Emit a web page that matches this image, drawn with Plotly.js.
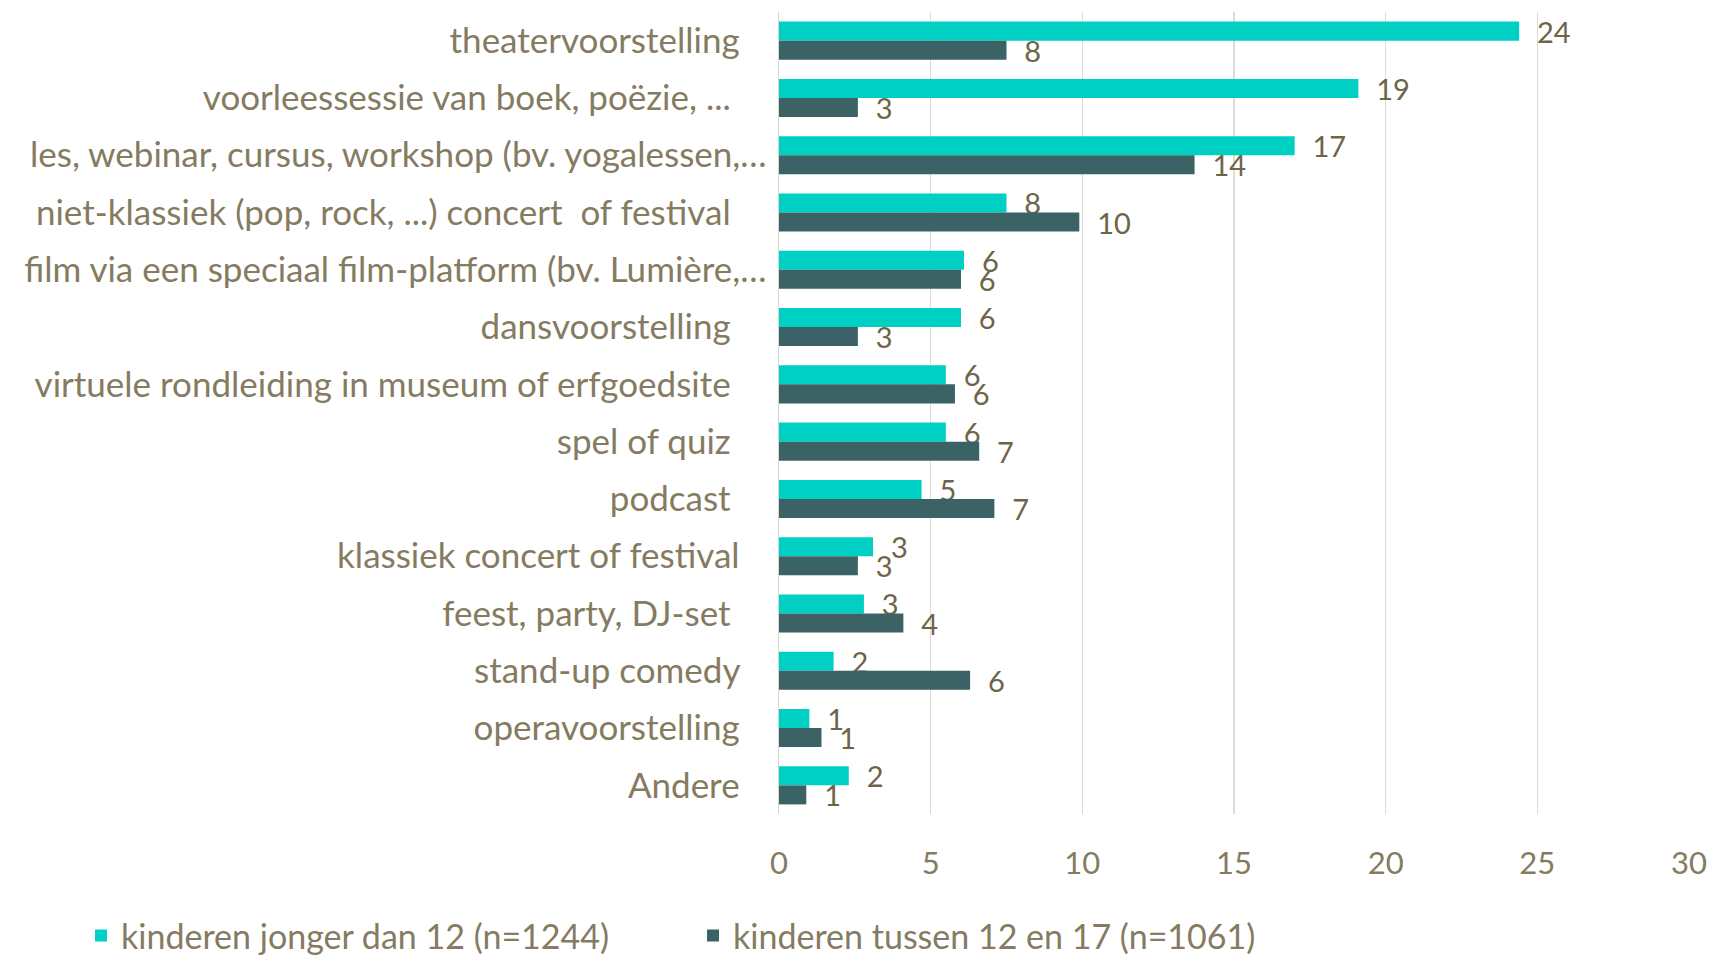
<!DOCTYPE html>
<html>
<head>
<meta charset="utf-8">
<script src="https://cdn.plot.ly/plotly-3.0.1.min.js"></script>
<style>html,body{margin:0;padding:0;background:#fff;}#chart{width:1714px;height:958px;}</style>
</head>
<body>
<div id="chart"></div>
<script>
var categories = [
  "theatervoorstelling",
  "voorleessessie van boek, poëzie, ...",
  "les, webinar, cursus, workshop (bv. yogalessen,…",
  "niet-klassiek (pop, rock, ...) concert  of festival",
  "film via een speciaal film-platform (bv. Lumière,…",
  "dansvoorstelling",
  "virtuele rondleiding in museum of erfgoedsite",
  "spel of quiz",
  "podcast",
  "klassiek concert of festival",
  "feest, party, DJ-set",
  "stand-up comedy",
  "operavoorstelling",
  "Andere"
];
// trailing padding seen in the original labels (number of spaces)
var labelPadding = [3, 4, 0, 4, 0, 4, 4, 4, 4, 3, 4, 3, 3, 3];

var seriesNames = ["kinderen jonger dan 12 (n=1244)", "kinderen tussen 12 en 17 (n=1061)"];
var youngValues = [24.4, 19.1, 17.0, 7.5, 6.1, 6.0, 5.5, 5.5, 4.7, 3.1, 2.8, 1.8, 1.0, 2.3];
var olderValues = [7.5, 2.6, 13.7, 9.9, 6.0, 2.6, 5.8, 6.6, 7.1, 2.6, 4.1, 6.3, 1.4, 0.9];
var youngLabels = ["24", "19", "17", "8", "6", "6", "6", "6", "5", "3", "3", "2", "1", "2"];
var olderLabels = ["8", "3", "14", "10", "6", "3", "6", "7", "7", "3", "4", "6", "1", "1"];
var xTicks = [0, 5, 10, 15, 20, 25, 30];

var textColor = "#857b61";
var valueColor = "#6e6448";
var fontFamily = "Lato, 'Open Sans', sans-serif";

function pad(n) { var s = ""; for (var i = 0; i < n; i++) s += "\u00a0"; return s; }
var tickText = categories.map(function (c, i) { return c + pad(labelPadding[i]); });

function barTrace(name, values, labels, color) {
  return {
    type: "bar",
    orientation: "h",
    name: name,
    y: categories,
    x: values,
    text: labels.map(function (t) { return "\u00a0\u00a0" + t; }),
    textposition: "outside",
    constraintext: "none",
    cliponaxis: false,
    textfont: { family: fontFamily, size: 29, color: valueColor },
    marker: { color: color, line: { width: 0 } },
    hoverinfo: "x+y"
  };
}

var data = [
  barTrace(seriesNames[0], youngValues, youngLabels, "#00cfc4"),
  barTrace(seriesNames[1], olderValues, olderLabels, "#3b6265")
];

var layout = {
  width: 1714,
  height: 958,
  margin: { l: 779, r: 25, t: 12, b: 144, pad: 0, autoexpand: false },
  paper_bgcolor: "#ffffff",
  plot_bgcolor: "#ffffff",
  barmode: "group",
  bargap: 0.335,
  bargroupgap: 0,
  font: { family: fontFamily, color: textColor },
  xaxis: {
    range: [0, 30],
    tickvals: xTicks,
    ticktext: xTicks.map(String),
    showgrid: true,
    gridcolor: "#dedbd3",
    gridwidth: 1.5,
    zeroline: false,
    showline: false,
    ticks: "",
    ticklabelstandoff: 28,
    tickfont: { family: fontFamily, size: 31, color: textColor },
    fixedrange: true
  },
  yaxis: {
    type: "category",
    autorange: "reversed",
    tickvals: categories,
    ticktext: tickText,
    showgrid: false,
    showline: true,
    linecolor: "#d9d6cc",
    linewidth: 1.5,
    ticks: "",
    ticklabelstandoff: 4,
    tickfont: { family: fontFamily, size: 35, color: textColor },
    fixedrange: true
  },
  showlegend: true,
  legend: {
    orientation: "h",
    x: -0.767,
    xanchor: "left",
    y: -0.152,
    yanchor: "middle",
    entrywidth: 567,
    entrywidthmode: "pixels",
    font: { family: fontFamily, size: 34, color: textColor },
    bgcolor: "rgba(0,0,0,0)",
    traceorder: "normal"
  }
};

Plotly.newPlot("chart", data, layout, { displayModeBar: false, staticPlot: true });
</script>
</body>
</html>
